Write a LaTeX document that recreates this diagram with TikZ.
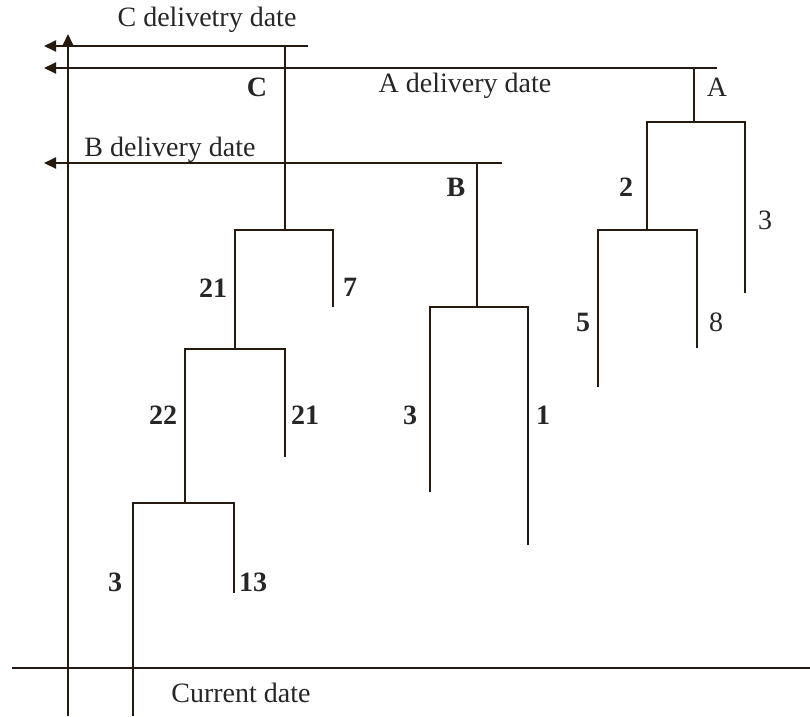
\documentclass[tikz,border=0pt]{standalone}
\usepackage{fontspec}
\setmainfont{Liberation Serif}
\usetikzlibrary{arrows.meta}
\begin{document}
\begin{tikzpicture}[x=1pt,y=-1pt,
  ink/.style={draw=black!80!brown},
  axisline/.style={ink,line width=2pt},
  dateline/.style={axisline,-{Triangle[length=12pt,width=11pt]}},
  treeline/.style={ink,line width=2.8pt,line join=miter},
  lbl/.style={font=\fontsize{28}{32}\selectfont,text=black!85,inner sep=0pt},
  num/.style={lbl,font=\fontsize{28}{32}\selectfont\bfseries},
  numA/.style={lbl}]
\useasboundingbox (0,0) rectangle (810,716);

% time axis and reference lines
\coordinate (axB) at (68,716);
\coordinate (axT) at (68,34);
\draw[dateline] (axB) -- (axT);
\coordinate (cdL) at (12,668);
\coordinate (cdR) at (810,668);
\draw[axisline] (cdL) -- (cdR);
\node[lbl] (cur) at (241,693) {Current date};

% delivery date lines
\coordinate (Cr) at (308,46);  \coordinate (Cl) at (44,46);
\coordinate (Ar) at (717,68);  \coordinate (Al) at (44,68);
\coordinate (Br) at (502,163); \coordinate (Bl) at (44,163);
\draw[dateline] (Cr) -- (Cl);
\draw[dateline] (Ar) -- (Al);
\draw[dateline] (Br) -- (Bl);
\node[lbl] (Cdd) at (207,20) {C delivetry date};
\node[lbl] (Add) at (465,86) {A delivery date};
\node[lbl] (Bdd) at (170,150) {B delivery date};

% product C structure
\coordinate (C0) at (285,46);
\coordinate (C1) at (285,230);
\draw[treeline] (C0) -- (C1);
\draw[treeline] (235,349) -- (235,230) -- (333,230) -- (333,307);
\draw[treeline] (185,503) -- (185,349) -- (285,349) -- (285,457);
\draw[treeline] (133,716) -- (133,503) -- (234,503) -- (234,593);
\node[num] (lC) at (257,87) {C};
\node[num] (c21a) at (213,288) {21};
\node[num] (c7) at (350,287) {7};
\node[num] (c22) at (163,415) {22};
\node[num] (c21b) at (305,415) {21};
\node[num] (c3) at (115,582) {3};
\node[num] (c13) at (253,582) {13};

% product B structure
\draw[treeline] (477,163) -- (477,307);
\draw[treeline] (430,492) -- (430,307) -- (528,307) -- (528,545);
\node[num] (lB) at (456,187) {B};
\node[num] (b3) at (410,415) {3};
\node[num] (b1) at (543,415) {1};

% product A structure
\draw[treeline] (694,68) -- (694,122);
\draw[treeline] (647,230) -- (647,122) -- (745,122) -- (745,293);
\draw[treeline] (598,387) -- (598,230) -- (697,230) -- (697,348);
\node[numA] (lA) at (717,87) {A};
\node[numA] (a2) at (626,187) {\bfseries 2};
\node[numA] (a3) at (765,220) {3};
\node[numA] (a5) at (583,322) {\bfseries 5};
\node[numA] (a8) at (716,322) {8};
\end{tikzpicture}
\end{document}
